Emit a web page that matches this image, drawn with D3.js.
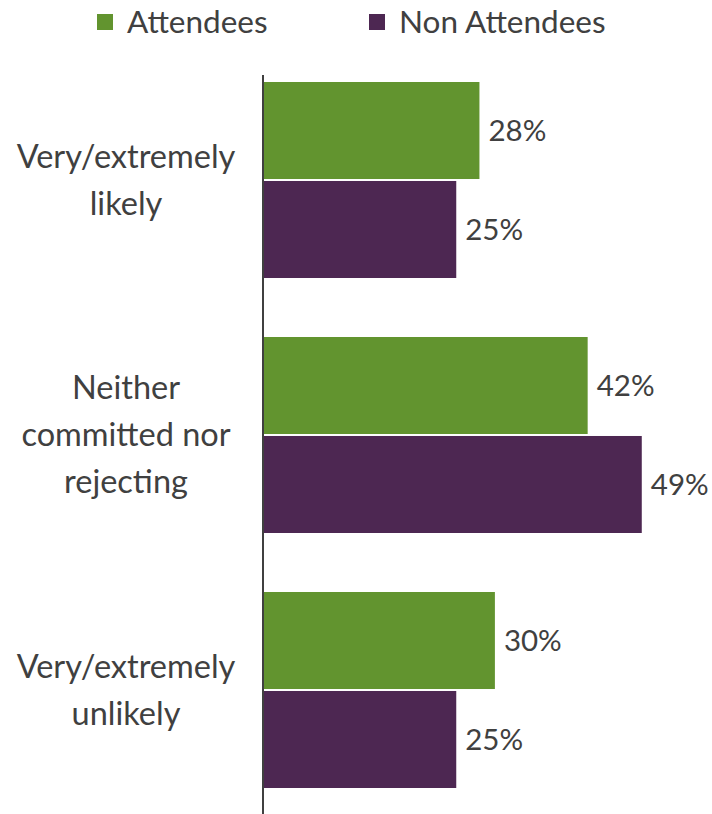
<!DOCTYPE html>
<html><head><meta charset="utf-8">
<script src="https://cdn.jsdelivr.net/npm/d3@7"></script>
<style>html,body{margin:0;padding:0;background:#fff;}svg{display:block;}</style>
</head><body>
<script>
const categories = ["Very/extremely\nlikely", "Neither\ncommitted nor\nrejecting", "Very/extremely\nunlikely"];
const seriesNames = ["Attendees", "Non Attendees"];
const attendees = [28, 42, 30];
const nonAttendees = [25, 49, 25];
const colors = ["#62942f", "#4d2752"];

const W = 712, H = 814;
const font = "Lato, 'Open Sans', sans-serif";
const textColor = "#404040";
const svg = d3.select("body").append("svg").attr("width", W).attr("height", H);

const axisX = 263;
const x = d3.scaleLinear().domain([0, 60]).range([axisX, axisX + 463.8]);
const y0 = d3.scaleBand().domain(categories).range([52.5, 817.5]).paddingInner(0.2314).paddingOuter(0.1157);
const y1 = d3.scaleBand().domain(seriesNames).range([0, y0.bandwidth()]).paddingInner(0.02);

const series = [attendees, nonAttendees];
const data = [];
categories.forEach((c, i) => seriesNames.forEach((s, j) => data.push({c, s, j, v: series[j][i]})));

svg.append("g").selectAll("rect").data(data).join("rect")
  .attr("x", x(0))
  .attr("y", d => y0(d.c) + y1(d.s))
  .attr("width", d => x(d.v) - x(0))
  .attr("height", y1.bandwidth())
  .attr("fill", d => colors[d.j]);

svg.append("g").selectAll("text").data(data).join("text")
  .attr("x", d => x(d.v) + 9)
  .attr("y", d => y0(d.c) + y1(d.s) + y1.bandwidth() / 2)
  .attr("dy", "0.35em")
  .attr("font-family", font).attr("font-size", 29.5).attr("fill", textColor)
  .text(d => d.v + "%");

// axis line
svg.append("line").attr("x1", axisX).attr("x2", axisX).attr("y1", 75).attr("y2", H)
  .attr("stroke", "#404040").attr("stroke-width", 2);

// category labels
const lineH = 47;
categories.forEach(c => {
  const lines = c.split("\n");
  const cy = y0(c) + y0.bandwidth() / 2;
  const t = svg.append("text").attr("text-anchor", "middle")
    .attr("font-family", font).attr("font-size", 32.5).attr("fill", textColor);
  lines.forEach((l, k) => {
    t.append("tspan").attr("x", 126)
      .attr("y", cy + (k - (lines.length - 1) / 2) * lineH)
      .attr("dy", "0.35em").text(l);
  });
});

// legend
const legendX = [97, 369];
seriesNames.forEach((s, j) => {
  svg.append("rect").attr("x", legendX[j]).attr("y", 14).attr("width", 16).attr("height", 16).attr("fill", colors[j]);
  svg.append("text").attr("x", legendX[j] + 30).attr("y", 22).attr("dy", "0.35em")
    .attr("font-family", font).attr("font-size", 31.5).attr("fill", textColor).text(s);
});
</script>
</body></html>
